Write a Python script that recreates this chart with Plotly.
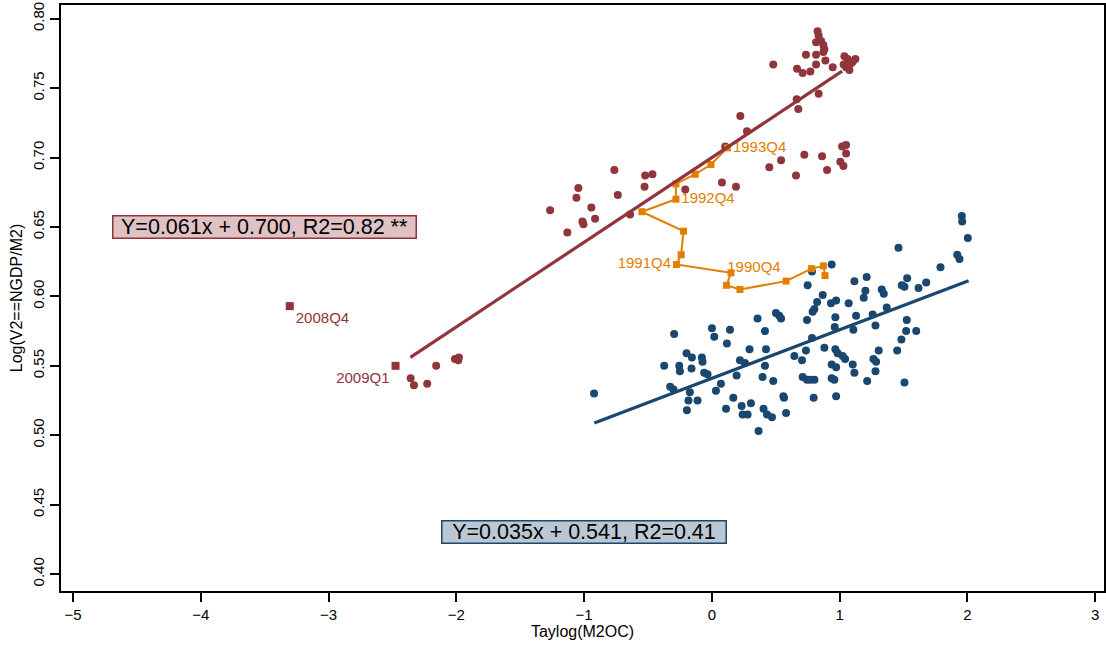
import plotly.graph_objects as go

# ---------------- data ----------------
blue_x = [-0.922, -0.295, -0.373, -0.326, -0.300, -0.198, -0.156, -0.255, -0.250, -0.159,
          -0.078, -0.073, -0.060, -0.034, -0.172, -0.183, -0.112, -0.195, 0.001, 0.019,
          0.142, 0.118, 0.032, 0.071, 0.168, 0.111, 0.233, 0.241, 0.280, 0.306,
          0.194, 0.220, 0.259, 0.295, 0.358, 0.416, 0.424, 0.416, 0.397, 0.481,
          0.405, 0.432, 0.471, 0.366, 0.502, 0.528, 0.542, 0.560, 0.565, 0.581,
          0.646, 0.706, 0.711, 0.745, 0.771, 0.803, 0.797, 0.737, 0.784, 0.745,
          0.789, 0.803, 0.824, 0.868, 0.750, 0.784, 0.938, 0.933, 0.973, 0.967,
          0.962, 0.881, 0.967, 0.985, 1.024, 1.043, 0.938, 0.973, 0.938, 0.959,
          0.973, 1.071, 1.116, 1.129, 1.108, 1.103, 1.116, 1.216, 1.212, 1.202,
          1.189, 1.259, 1.281, 1.306, 1.265, 1.286, 1.281, 1.330, 1.346, 1.369,
          1.451, 1.484, 1.521, 1.600, 1.526, 1.508, 1.487, 1.508, 1.529, 1.618,
          1.678, 1.790, 1.921, 1.939, 1.461, 1.957, 1.960, 2.004]
blue_y = [0.530, 0.573, 0.550, 0.535, 0.533, 0.559, 0.556, 0.550, 0.546, 0.548,
          0.556, 0.553, 0.545, 0.544, 0.531, 0.525, 0.525, 0.518, 0.577, 0.571,
          0.576, 0.566, 0.532, 0.537, 0.527, 0.519, 0.521, 0.515, 0.515, 0.523,
          0.543, 0.554, 0.552, 0.562, 0.584, 0.575, 0.562, 0.550, 0.542, 0.539,
          0.519, 0.515, 0.513, 0.503, 0.588, 0.586, 0.584, 0.528, 0.527, 0.516,
          0.557, 0.554, 0.542, 0.540, 0.540, 0.540, 0.527, 0.561, 0.570, 0.583,
          0.589, 0.591, 0.596, 0.601, 0.608, 0.618, 0.623, 0.595, 0.597, 0.585,
          0.578, 0.563, 0.562, 0.559, 0.557, 0.555, 0.551, 0.549, 0.541, 0.540,
          0.528, 0.595, 0.611, 0.586, 0.576, 0.551, 0.545, 0.539, 0.614, 0.604,
          0.599, 0.587, 0.579, 0.561, 0.555, 0.553, 0.546, 0.605, 0.602, 0.592,
          0.561, 0.569, 0.575, 0.575, 0.583, 0.538, 0.608, 0.607, 0.613, 0.606,
          0.610, 0.621, 0.630, 0.627, 0.635, 0.658, 0.654, 0.642]

red_x = [0.828, 0.836, 0.855, 0.816, 0.873, 0.881, 0.873, 0.737, 0.816, 0.481,
         0.816, 0.889, 0.667, 0.711, 0.771, 0.946, 1.038, 1.063, 1.124, 1.090,
         1.051, 1.077, 1.103, 1.032, 0.664, 0.836, 0.677, 0.223, 0.275, 0.105,
         0.079, 0.189, 0.450, 0.542, 0.724, 0.659, 0.863, 0.902, 1.020, 1.051,
         1.051, 1.006, 1.030, -0.208,
         -1.266, -1.131, -1.045, -1.060, -1.013, -1.005, -0.943, -0.914, -0.763, -0.736,
         -0.640, -0.522, -0.465, -0.527,
         -2.358, -2.332, -2.228, -2.158, -2.011, -1.985, -1.980]
red_y = [0.791, 0.788, 0.784, 0.783, 0.781, 0.778, 0.776, 0.774, 0.774, 0.767,
         0.767, 0.770, 0.764, 0.761, 0.762, 0.765, 0.773, 0.771, 0.771, 0.768,
         0.765, 0.763, 0.769, 0.767, 0.742, 0.746, 0.735, 0.730, 0.719, 0.708,
         0.682, 0.679, 0.693, 0.698, 0.702, 0.687, 0.701, 0.691, 0.708, 0.709,
         0.703, 0.697, 0.694, 0.677,
         0.662, 0.646, 0.678, 0.671, 0.654, 0.652, 0.664, 0.656, 0.691, 0.673,
         0.659, 0.687, 0.688, 0.679,
         0.541, 0.536, 0.537, 0.550, 0.555, 0.554, 0.556]

crisis_x = [-3.304, -2.476]
crisis_y = [0.593, 0.550]
crisis_lbl = ["2008Q4", "2009Q1"]

path_quarters = ["1990Q1", "1990Q2", "1990Q3", "1990Q4", "1991Q1", "1991Q2", "1991Q3", "1991Q4",
                 "1992Q1", "1992Q2", "1992Q3", "1992Q4", "1993Q1", "1993Q2", "1993Q3", "1993Q4"]
path_x = [0.886, 0.873, 0.781, 0.581, 0.220, 0.115, 0.150, -0.277,
          -0.240, -0.222, -0.548, -0.281, -0.281, -0.130, -0.007, 0.123]
path_y = [0.615, 0.622, 0.620, 0.611, 0.605, 0.608, 0.617, 0.623,
          0.630, 0.647, 0.661, 0.670, 0.681, 0.688, 0.695, 0.707]

red_fit = dict(slope=0.061, intercept=0.700, x_range=[-2.36, 1.02])
blue_fit = dict(slope=0.035, intercept=0.541, x_range=[-0.92, 2.01])

x_ticks = [-5, -4, -3, -2, -1, 0, 1, 2, 3]
y_ticks = [0.40, 0.45, 0.50, 0.55, 0.60, 0.65, 0.70, 0.75, 0.80]

# ---------------- styling ----------------
NAVY = "#1a476f"
MAROON = "#90353b"
ORANGE = "#e37e00"
FONT = "Liberation Sans, Arial, Helvetica, sans-serif"

fig = go.Figure()

fig.add_trace(go.Scatter(x=blue_x, y=blue_y, mode="markers",
                         marker=dict(symbol="circle", size=8, color=NAVY),
                         showlegend=False, hoverinfo="skip"))
fig.add_trace(go.Scatter(x=red_x, y=red_y, mode="markers",
                         marker=dict(symbol="circle", size=8, color=MAROON),
                         showlegend=False, hoverinfo="skip"))

# orange path with Q4 labels
path_text = [q if q.endswith("Q4") else "" for q in path_quarters]
path_pos = []
for q in path_quarters:
    if q == "1991Q4":
        path_pos.append("middle left")
    elif q == "1990Q4":
        path_pos.append("top left")
    else:
        path_pos.append("middle right")
fig.add_trace(go.Scatter(x=path_x, y=path_y, mode="lines+markers+text",
                         line=dict(color=ORANGE, width=2),
                         marker=dict(symbol="square", size=7, color=ORANGE),
                         text=path_text, textposition=path_pos,
                         textfont=dict(color=ORANGE, size=15, family=FONT),
                         showlegend=False, hoverinfo="skip"))

for fit, col in ((red_fit, MAROON), (blue_fit, NAVY)):
    xs = fit["x_range"]
    ys = [fit["slope"] * v + fit["intercept"] for v in xs]
    fig.add_trace(go.Scatter(x=xs, y=ys, mode="lines",
                             line=dict(color=col, width=3.2),
                             showlegend=False, hoverinfo="skip"))

fig.add_trace(go.Scatter(x=crisis_x, y=crisis_y, mode="markers+text",
                         marker=dict(symbol="square", size=8, color=MAROON),
                         text=crisis_lbl, textposition=["bottom right", "bottom left"],
                         textfont=dict(color=MAROON, size=15, family=FONT),
                         showlegend=False, hoverinfo="skip"))

# equation boxes
fig.add_annotation(x=-3.5, y=0.65, xref="x", yref="y", showarrow=False,
                   text="Y=0.061x + 0.700, R2=0.82 **",
                   font=dict(size=21.5, color="black", family=FONT),
                   bgcolor="#dec2c4", bordercolor=MAROON, borderwidth=1.5, borderpad=0,
                   width=302, height=21)
fig.add_annotation(x=-1.0, y=0.43, xref="x", yref="y", showarrow=False,
                   text="Y=0.035x + 0.541, R2=0.41",
                   font=dict(size=21.5, color="black", family=FONT),
                   bgcolor="#bac8d4", bordercolor=NAVY, borderwidth=1.5, borderpad=0,
                   width=283, height=21)

axis_common = dict(showline=True, linecolor="black", linewidth=1.5, mirror=True,
                   ticks="outside", ticklen=9, tickwidth=1.5, tickcolor="black",
                   showgrid=False, zeroline=False, automargin=False,
                   tickfont=dict(size=15, color="black", family=FONT))

fig.update_layout(
    width=1106, height=650,
    margin=dict(l=61, r=2, t=5, b=59),
    paper_bgcolor="white", plot_bgcolor="white",
    font=dict(family=FONT, color="black"),
    xaxis=dict(range=[-5.095, 3.07], tickvals=x_ticks,
               title=dict(text="Taylog(M2OC)", font=dict(size=16), standoff=2),
               **axis_common),
    yaxis=dict(range=[0.3878, 0.8099], tickvals=y_ticks, tickformat=".2f", tickangle=-90,
               title=dict(text="Log(V2==NGDP/M2)", font=dict(size=16), standoff=4),
               **axis_common),
)

fig.write_html("out.html")
